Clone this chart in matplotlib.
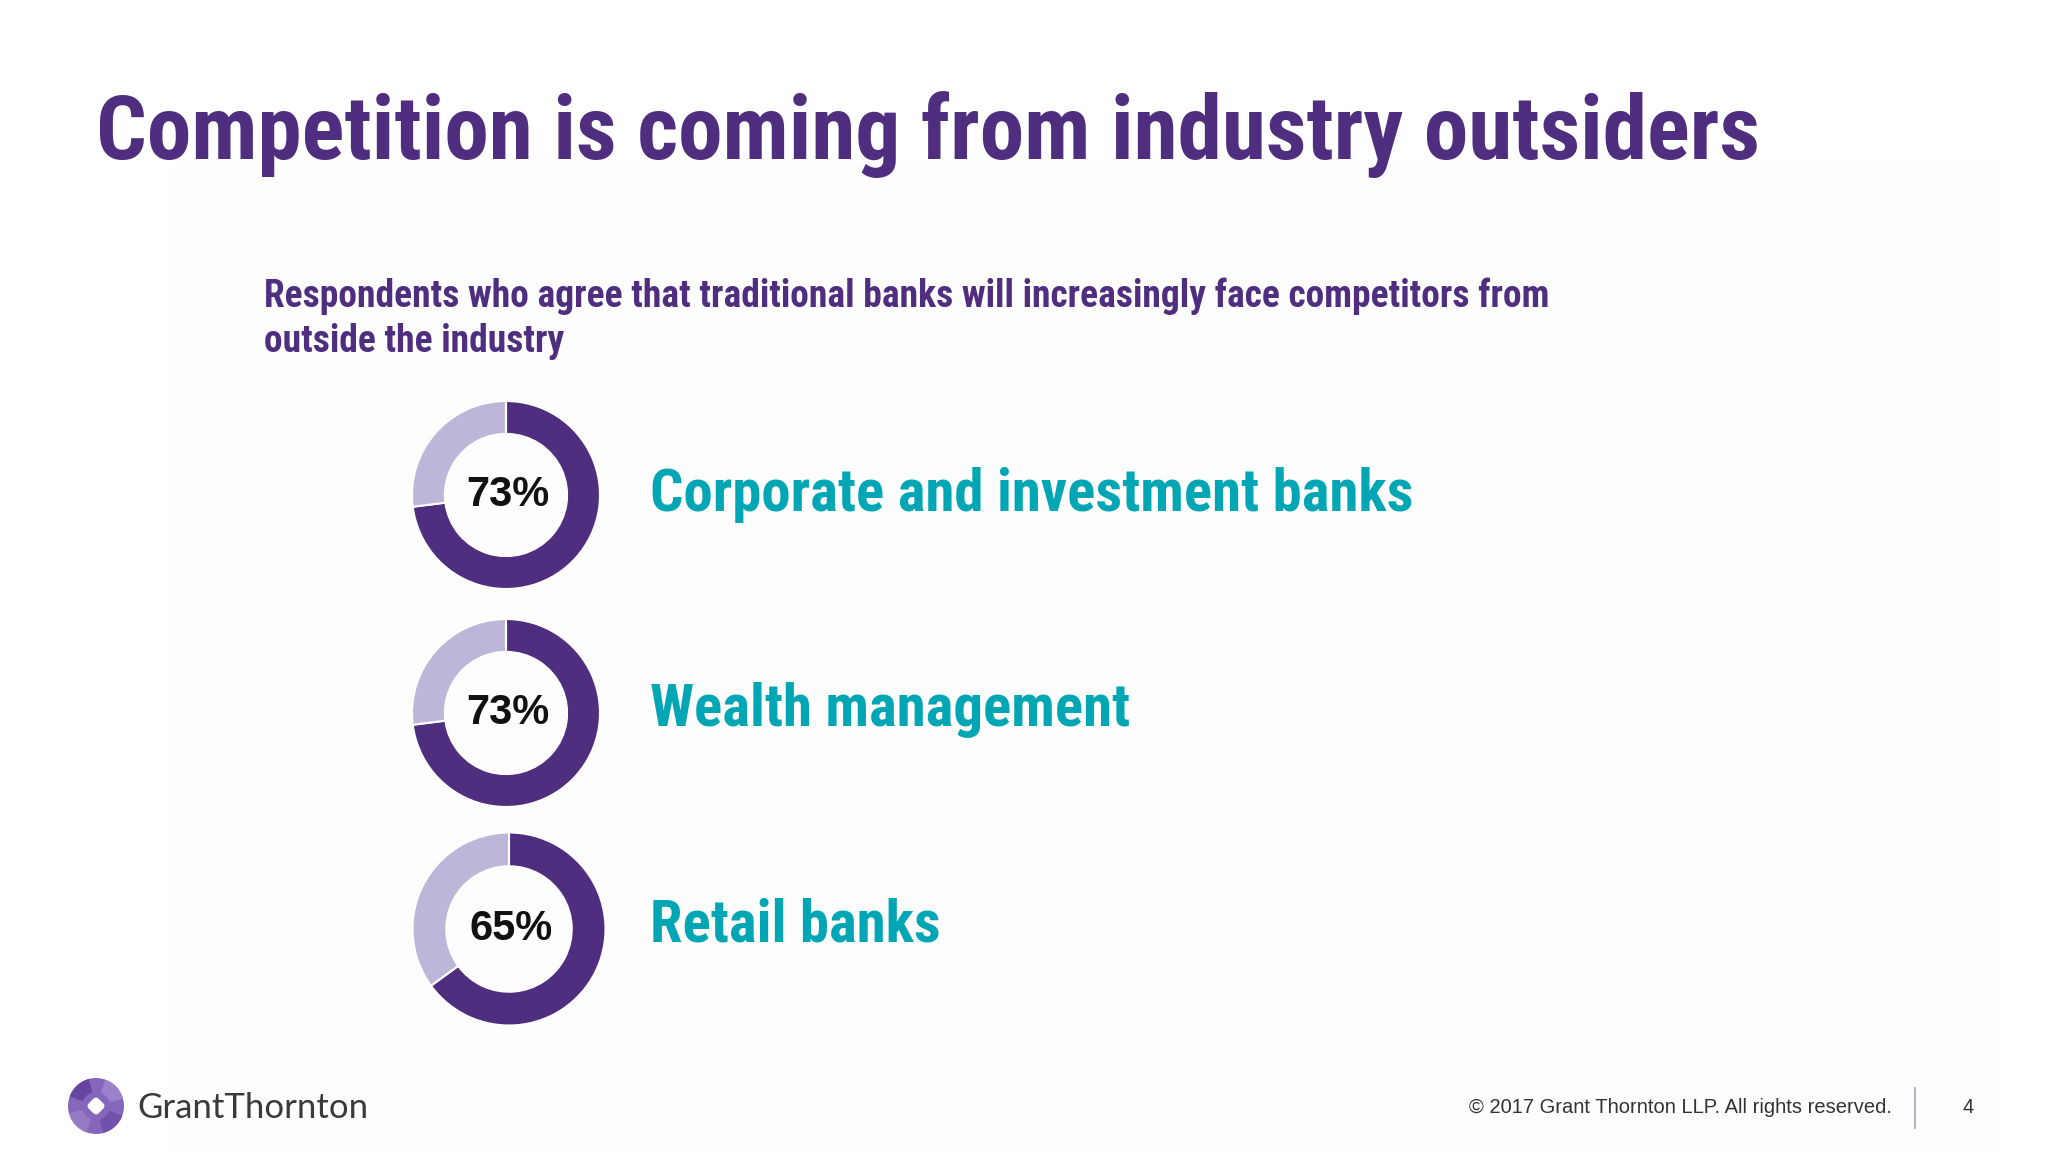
import matplotlib
matplotlib.use("Agg")
import matplotlib.pyplot as plt
import matplotlib.transforms as mtransforms
from matplotlib.patches import Circle, FancyBboxPatch, Wedge
from matplotlib.lines import Line2D

# ---- data ----
categories = ["Corporate and investment banks", "Wealth management", "Retail banks"]
agree_pct = [73, 73, 65]
pct_labels = ["73%", "73%", "65%"]

title = "Competition is coming from industry outsiders"
subtitle = ["Respondents who agree that traditional banks will increasingly face competitors from",
            "outside the industry"]
footer = "\u00a9 2017 Grant Thornton LLP. All rights reserved."
page_no = "4"
brand = "GrantThornton"

# ---- style ----
W, H = 2048, 1152
PURPLE = "#4F2D7F"
LIGHT = "#BDB6D9"
TEAL = "#00A6B4"
NARROW = ["Roboto Condensed", "PT Sans Narrow", "Liberation Sans", "DejaVu Sans"]
SANS = ["Liberation Sans", "DejaVu Sans"]

fig = plt.figure(figsize=(W / 100, H / 100), dpi=100)
fig.patch.set_facecolor("white")

bg = fig.add_axes([0, 0, 1, 1])
bg.set_xlim(0, W)
bg.set_ylim(H, 0)
bg.axis("off")

# faint slide panel
bg.add_patch(FancyBboxPatch((170, 165), 1830, 990, boxstyle="square,pad=0",
                            facecolor="#FDFDFD", edgecolor="none", zorder=0))

bg.text(96, 159, title, family=NARROW, weight="bold", fontsize=64.3,
        color=PURPLE, ha="left", va="baseline")
bg.text(264, 307, subtitle[0], family=NARROW, weight="bold", fontsize=27,
        color=PURPLE, ha="left", va="baseline")
bg.text(264, 352, subtitle[1], family=NARROW, weight="bold", fontsize=27,
        color=PURPLE, ha="left", va="baseline")

centers = [(506, 495, 94), (506, 713, 94), (509, 929, 96.5)]
label_baselines = [511, 726, 942]
PAD = 1.02

for (cx, cy, r), v, lab, cat, yb in zip(centers, agree_pct, pct_labels, categories, label_baselines):
    rr = r * PAD
    ax = fig.add_axes([(cx - rr) / W, 1 - (cy + rr) / H, 2 * rr / W, 2 * rr / H])
    ax.pie([v, 100 - v], colors=[PURPLE, LIGHT], startangle=90, counterclock=False,
           radius=1, wedgeprops=dict(width=0.35, edgecolor="white", linewidth=1.5))
    ax.set_xlim(-PAD, PAD)
    ax.set_ylim(-PAD, PAD)
    ax.set_aspect("equal")
    ax.axis("off")
    ax.text(0.02, 0.0, lab, ha="center", va="center", fontsize=30, weight="bold",
            family=SANS, color="#111111")
    bg.text(650, yb, cat, family=NARROW, weight="bold", fontsize=42.3,
            color=TEAL, ha="left", va="baseline")

# footer
bg.text(1469, 1113, footer, family=SANS, fontsize=14.5, color="#333333",
        ha="left", va="baseline")
bg.add_line(Line2D([1915, 1915], [1088, 1128], color="#B9B3D3", lw=1.5))
bg.text(1968, 1113, page_no, family=SANS, fontsize=14.5, color="#333333",
        ha="center", va="baseline")

# logo
lx, ly, lr = 96, 1106, 28
bg.add_patch(Circle((lx, ly), lr, facecolor="#8566BB", edgecolor="none", zorder=2))
shades = ["#6E4CA8", "#9A80C9", "#5E3D99", "#A08BCF"]
for i, c in enumerate(shades):
    bg.add_patch(Wedge((lx, ly), lr, 90 * i + 20, 90 * i + 75, width=14,
                       facecolor=c, edgecolor="none", alpha=0.8, zorder=3))
bg.add_patch(FancyBboxPatch((lx - 7, ly - 7), 14, 14,
                            boxstyle="round,pad=0,rounding_size=4",
                            facecolor="white", edgecolor="none", zorder=4,
                            transform=mtransforms.Affine2D().rotate_deg_around(lx, ly, 45) + bg.transData))
bg.text(137, 1118, brand, family=["Lato", "DejaVu Sans"], fontsize=25,
        color="#3A3A3A", ha="left", va="baseline")

fig.savefig("out.png", dpi=100, facecolor="white")
